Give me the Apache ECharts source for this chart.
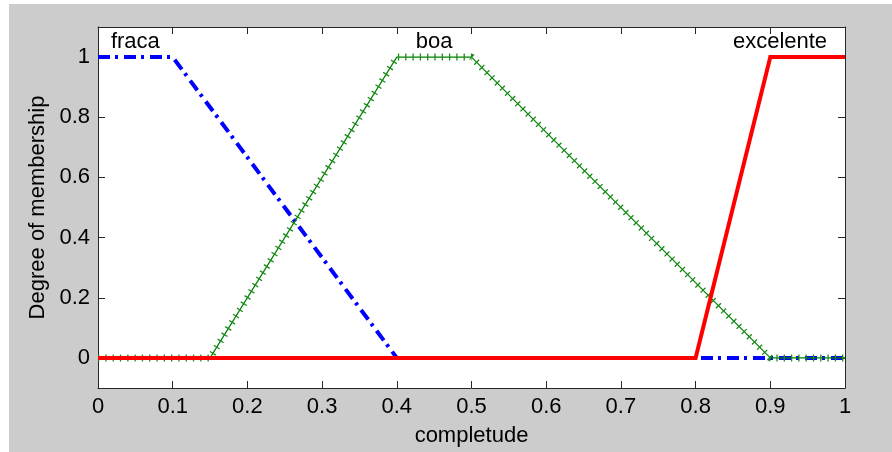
<!DOCTYPE html>
<html>
<head>
<meta charset="utf-8">
<script src="https://cdn.jsdelivr.net/npm/echarts@6/dist/echarts.min.js"></script>
<style>
  html, body { margin: 0; padding: 0; background: #ffffff; }
  #chart { position: absolute; left: 9px; top: 4px; width: 883px; height: 448px; }
</style>
</head>
<body>
<div id="chart"></div>
<script>
// Membership functions of the variable "completude"
const fracaX = [0, 0.1, 0.4, 1];
const fracaY = [1, 1, 0, 0];

const boaX = [0, 0.15, 0.4, 0.5, 0.9, 1];
const boaY = [0, 0, 1, 1, 0, 0];

const excelenteX = [0, 0.8, 0.9, 1];
const excelenteY = [0, 0, 1, 1];

// Name of each set, written above its plateau
const setNames = ['fraca', 'boa', 'excelente'];
const setNameX = [0.05, 0.45, 0.913];
const setNameY = [1.05, 1.05, 1.05];

// Axis ticks
const xTicks = [0, 0.1, 0.2, 0.3, 0.4, 0.5, 0.6, 0.7, 0.8, 0.9, 1];
const yTicks = [0, 0.2, 0.4, 0.6, 0.8, 1];

const pairs = (xs, ys) => xs.map((x, i) => [x, ys[i]]);

const FONT = '"Liberation Sans", Arial, Helvetica, sans-serif';
const INK = '#000000';
const AXIS = '#262626';

const chart = echarts.init(document.getElementById('chart'), null, { renderer: 'canvas' });

const boxAxis = {
  axisLine: { show: true, onZero: false, lineStyle: { color: AXIS, width: 1 } },
  axisTick: { show: true, inside: true, length: 7, lineStyle: { color: AXIS, width: 1 } },
  splitLine: { show: false }
};

chart.setOption({
  backgroundColor: '#cccccc',
  animation: false,
  grid: {
    left: 89, top: 23, right: 47, bottom: 63,
    show: true, backgroundColor: '#ffffff', borderWidth: 0
  },
  xAxis: [
    Object.assign({}, boxAxis, {
      type: 'value', position: 'bottom', min: xTicks[0], max: xTicks[xTicks.length - 1],
      interval: 0.1,
      name: 'completude', nameLocation: 'middle', nameGap: 37,
      nameTextStyle: { color: INK, fontFamily: FONT, fontSize: 22 },
      axisLabel: { color: INK, fontFamily: FONT, fontSize: 22, margin: 8 }
    }),
    Object.assign({}, boxAxis, {
      type: 'value', position: 'top', min: xTicks[0], max: xTicks[xTicks.length - 1],
      interval: 0.1, axisLabel: { show: false }
    })
  ],
  yAxis: [
    Object.assign({}, boxAxis, {
      type: 'value', position: 'left', min: -0.1, max: 1.1,
      name: 'Degree of membership', nameLocation: 'middle', nameGap: 46,
      nameTextStyle: { color: INK, fontFamily: FONT, fontSize: 22 },
      axisTick: Object.assign({}, boxAxis.axisTick, { customValues: yTicks }),
      axisLabel: { color: INK, fontFamily: FONT, fontSize: 22, margin: 8, customValues: yTicks }
    }),
    Object.assign({}, boxAxis, {
      type: 'value', position: 'right', min: -0.1, max: 1.1,
      axisTick: Object.assign({}, boxAxis.axisTick, { customValues: yTicks }),
      axisLabel: { show: false, customValues: yTicks }
    })
  ],
  series: [
    {
      name: 'fraca', type: 'line', data: pairs(fracaX, fracaY),
      symbol: 'none', z: 2,
      lineStyle: { color: '#0000ff', width: 4, type: [12, 5, 3, 6], cap: 'butt' }
    },
    {
      name: 'boa', type: 'line', data: pairs(boaX, boaY),
      symbol: 'none', z: 3,
      lineStyle: { color: '#008000', width: 1.2 }
    },
    {
      name: 'boa-marks', type: 'line', data: pairs(boaX, boaY),
      symbol: 'none', z: 3,
      lineStyle: { color: '#1a8c1a', width: 7, type: [1.3, 6], cap: 'butt' }
    },
    {
      name: 'excelente', type: 'line', data: pairs(excelenteX, excelenteY),
      symbol: 'none', z: 4,
      lineStyle: { color: '#ff0000', width: 4, join: 'miter' }
    },
    {
      name: 'set names', type: 'scatter', symbol: 'rect', symbolSize: 1, z: 5,
      itemStyle: { color: '#ffffff', opacity: 0 },
      data: setNames.map((n, i) => ({ name: n, value: [setNameX[i], setNameY[i]] })),
      label: {
        show: true, position: 'inside', formatter: p => p.name, opacity: 1,
        color: INK, fontFamily: FONT, fontSize: 22,
        textBorderWidth: 0, textBorderColor: 'transparent', textShadowBlur: 0
      },
      emphasis: { disabled: true },
      silent: true
    }
  ]
});
</script>
</body>
</html>
